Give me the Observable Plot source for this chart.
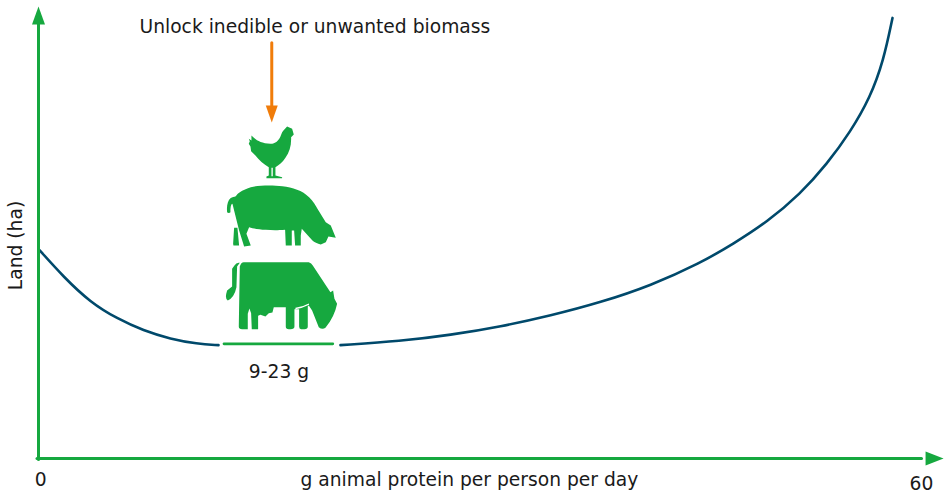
<!DOCTYPE html>
<html><head><meta charset="utf-8">
<script src="https://cdn.jsdelivr.net/npm/d3@7"></script>
<script src="https://cdn.jsdelivr.net/npm/@observablehq/plot@0.6"></script>
<style>html,body{margin:0;padding:0;background:#fff}svg{display:block}</style>
</head><body><div id="c"></div>
<script>
const curveLeftX = [0,1.72,3.53,5.35,7.13,8.97,10.78,12.23];
const curveLeftY = [47.5,41.1,35.4,31.7,29,27.1,26,25.7];
const curveRightX = [20.52,24.6,28,31.4,34.8,38.2,41.6,44.97,47.23,49.5,51.77,53.58,55.16,56.52,57.42,58.03];
const curveRightY = [25.7,26.6,28,29.9,32.4,35.4,39.2,44.3,48.7,53.6,60,66.8,74,81.9,90.2,99.9];
const rangeX = [12.6,20];
const rangeY = [26,26];
const GREEN = "#16a83f", BLUE = "#00496b", ORANGE = "#f07c0a";
const svgUri = (vb, d) => "data:image/svg+xml;utf8," + encodeURIComponent(
  `<svg xmlns="http://www.w3.org/2000/svg" viewBox="${vb}"><path fill="${GREEN}" fill-rule="evenodd" d="${d}"/></svg>`);
const chicken = "M33 45C45 58 60 68 90 70C105 70 115 60 120 48C124 38 126 32 131 28L140 18L155 25L160 42L152 50C153 75 147 95 135 112C126 126 115 134 105 140L105 165L125 170L125 173L78 173L78 168L85 165L85 140C70 132 55 118 45 105L32 92L30 78L25 70L28 62L25 55L33 60ZM93 142L93 167L97 167L97 142Z";
const pig = "M14 95C12 75 16 60 24 53C30 48 35 50 40 47C46 38 55 30 85 20C110 14 150 14 180 17C210 20 240 30 260 50C272 62 280 75 285 85L310 125L325 135L340 172L318 168L310 185L295 192C285 190 275 185 270 180L238 145L235 165L235 195L218 195L215 150L208 150L208 195L190 195L188 148C165 150 150 150 130 148C110 147 95 145 80 140L72 160L85 195L65 198L50 150L30 70C26 70 24 78 24 95C22 98 16 98 14 95ZM35 142L45 142L50 195L33 195L32 190Z";
const cow = "M88 108Q92 95 100 95L295 95Q303 97 307 105L360 185L368 180L372 205L380 220Q372 260 345 292Q335 298 325 290L305 240L295 225L292 228L292 288Q292 296 282 296L272 296Q266 296 266 288L266 236L252 236L252 288Q252 296 240 296L235 296Q226 296 226 288L226 230L190 230L186 246L175 248L165 258L150 253L143 256L143 296L124 296L122 248L117 234L112 250L112 296L95 296Q85 296 85 288ZM255 232Q275 230 295 219L296 223Q275 234 255 236ZM72 105Q78 95 88 97L80 108L78 170Q72 200 52 210Q42 205 50 180L65 168L65 115Z";
const icons = [
  {x:(270-38)/14.72, y:(458-151)/4.41, w:60, h:62, src:svgUri("0 0 180 186", chicken)},
  {x:(281-38)/14.72, y:(458-216)/4.41, w:118, h:72, src:svgUri("0 0 354 216", pig)},
  {x:(280-38)/14.72, y:(458-295)/4.41, w:140, h:130, src:svgUri("0 0 420 390", cow)}
];
const head = (L,W)=>({draw(c){c.moveTo(0,0);c.lineTo(-W/2,L);c.lineTo(W/2,L);c.closePath();}});
const seg = (xs,ys)=>xs.map((x,i)=>({x,y:ys[i]}));
const T = {fontFamily:"DejaVu Sans", fontSize:18.7, fill:"#1a1a1a"};
const plot = Plot.plot({
  width:946, height:493, margin:0,
  style:{background:"#fff", overflow:"visible"},
  x:{domain:[0,60], range:[38,921], axis:null},
  y:{domain:[0,100], range:[458,17], axis:null},
  marks:[
    Plot.line(seg(curveLeftX,curveLeftY),{x:"x",y:"y",stroke:BLUE,strokeWidth:2.6,curve:"basis"}),
    Plot.line(seg(curveRightX,curveRightY),{x:"x",y:"y",stroke:BLUE,strokeWidth:2.6,curve:"basis"}),
    Plot.line(seg(rangeX,rangeY),{x:"x",y:"y",stroke:GREEN,strokeWidth:2.6}),
    Plot.line(seg([0,0],[-0.2,99]),{x:"x",y:"y",stroke:GREEN,strokeWidth:3}),
    Plot.line(seg([-0.1,60],[0,0]),{x:"x",y:"y",stroke:GREEN,strokeWidth:3}),
    Plot.line(seg([15.85,15.85],[94.3,79]),{x:"x",y:"y",stroke:ORANGE,strokeWidth:3}),
    Plot.dot([{x:0,y:102.5}],{x:"x",y:"y",symbol:head(18,13),fill:GREEN,r:5}),
    Plot.dot([{x:61.5,y:0}],{x:"x",y:"y",symbol:head(18,14),rotate:90,fill:GREEN,r:5}),
    Plot.dot([{x:15.85,y:76.2}],{x:"x",y:"y",symbol:head(17,12),rotate:180,fill:ORANGE,r:5}),
    Plot.image(icons,{x:"x",y:"y",width:"w",height:"h",src:"src"}),
    Plot.text([{x:0.15,y:-4.9,t:"0"}],{x:"x",y:"y",text:"t",...T}),
    Plot.text([{x:60,y:-5.8,t:"60"}],{x:"x",y:"y",text:"t",...T}),
    Plot.text([{x:29.28,y:-4.8,t:"g animal protein per person per day"}],{x:"x",y:"y",text:"t",...T}),
    Plot.text([{x:16.34,y:19.7,t:"9-23 g"}],{x:"x",y:"y",text:"t",...T}),
    Plot.text([{x:18.78,y:97.9,t:"Unlock inedible or unwanted biomass"}],{x:"x",y:"y",text:"t",...T}),
    Plot.text([{x:-1.56,y:48.3,t:"Land (ha)"}],{x:"x",y:"y",text:"t",rotate:-90,...T})
  ]
});
document.getElementById("c").append(plot);
</script></body></html>
